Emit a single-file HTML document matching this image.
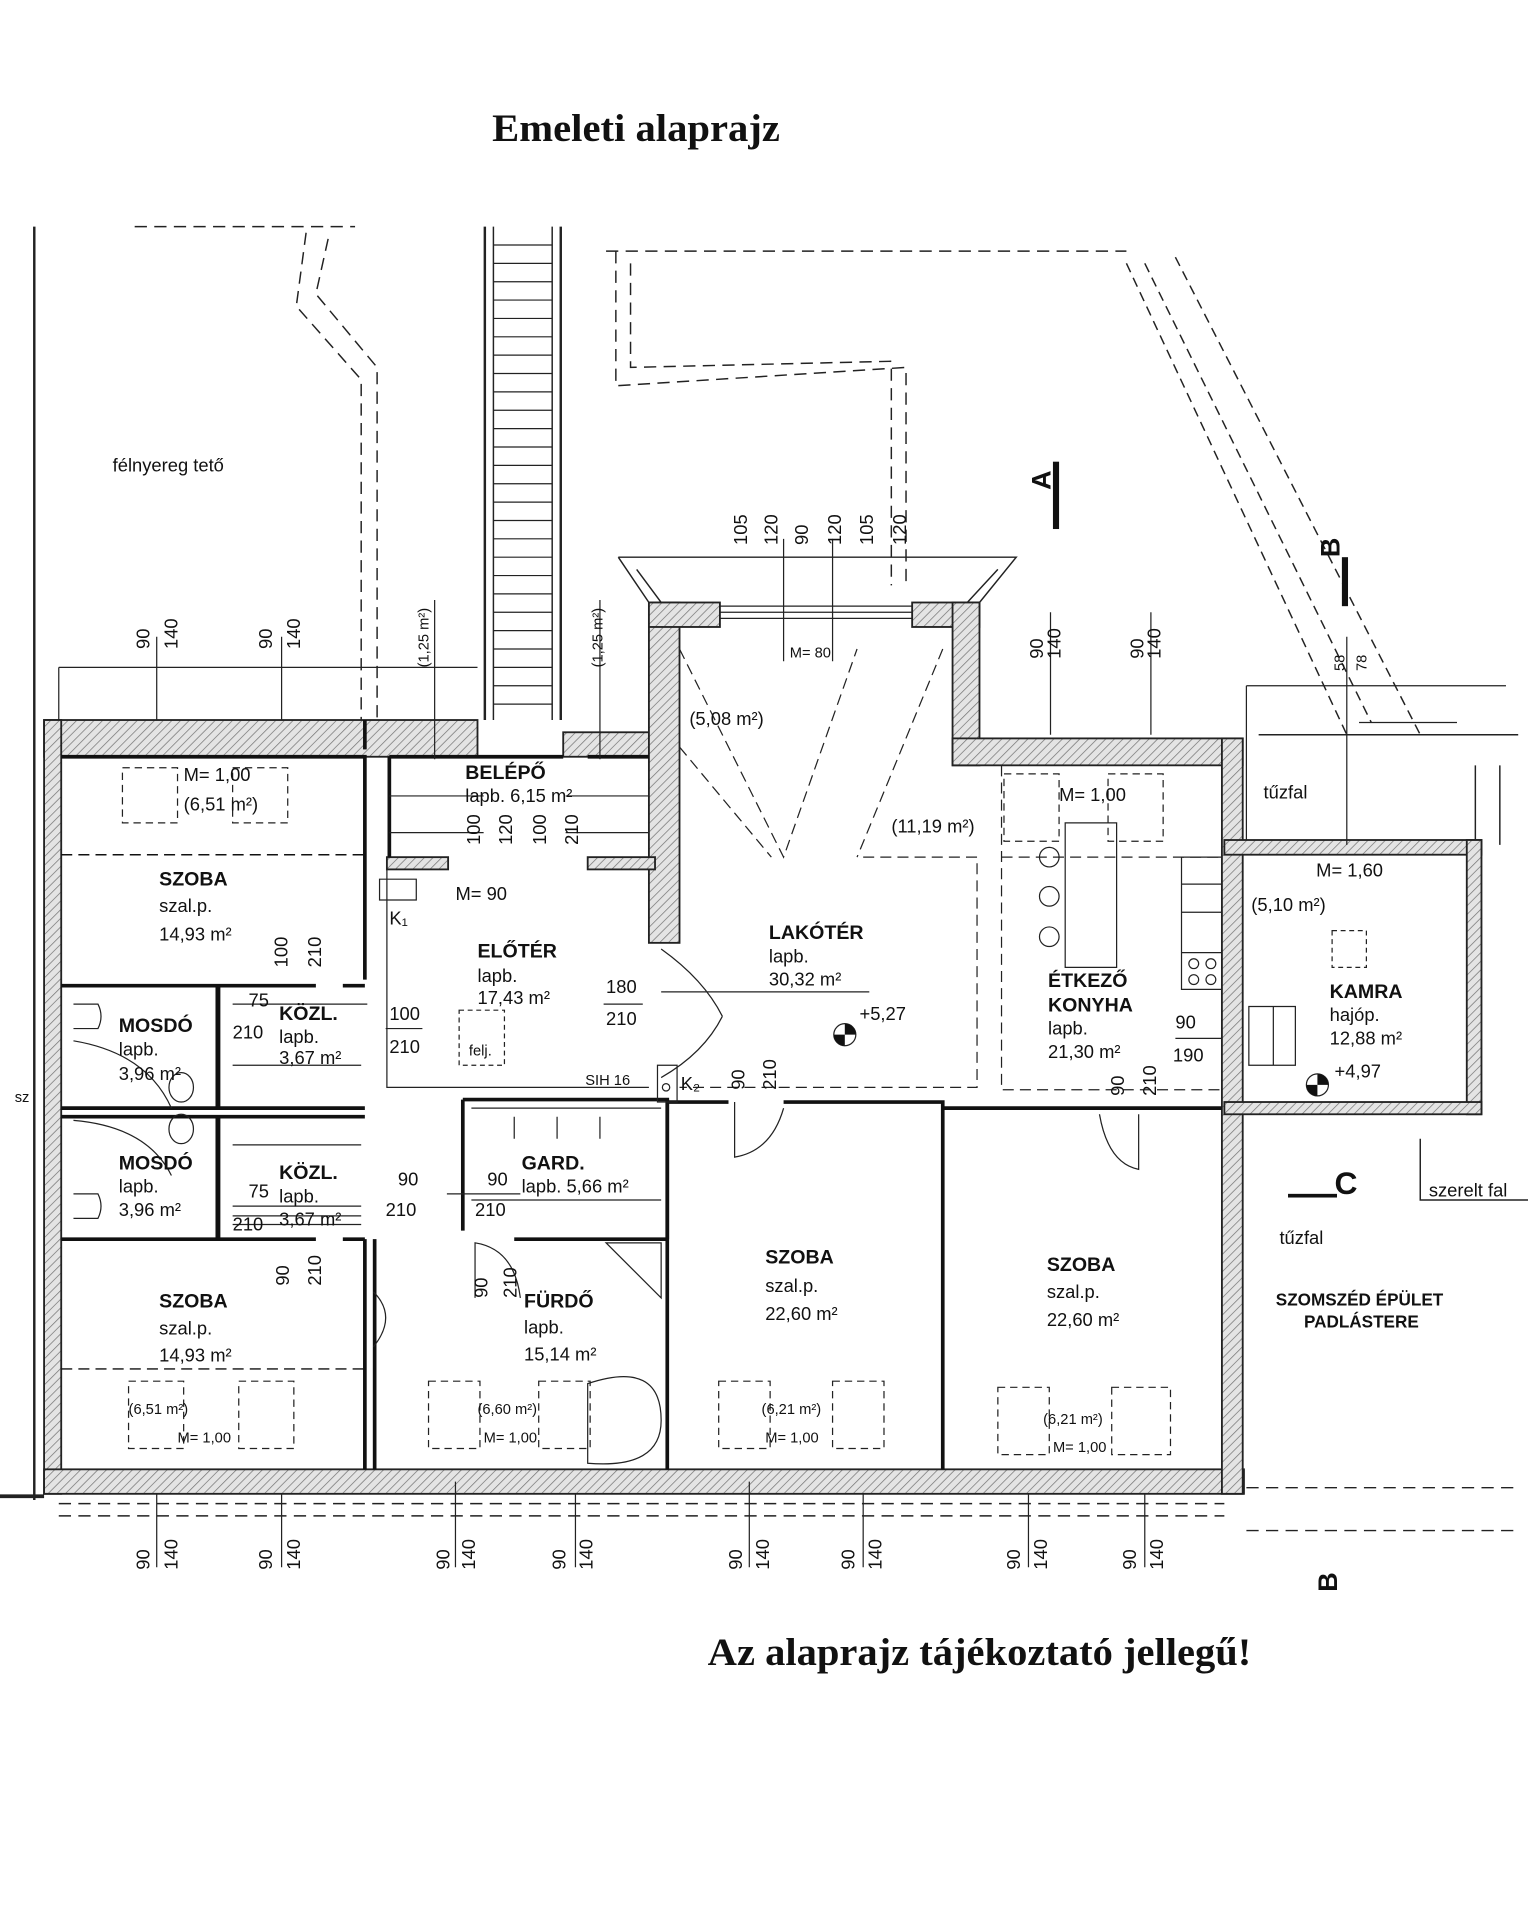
<!DOCTYPE html>
<html><head><meta charset="utf-8"><style>
html,body{margin:0;padding:0;background:#fff;}
svg{display:block}
text{font-family:"Liberation Sans",sans-serif;fill:#111}
.t{font-family:"Liberation Serif",serif;font-weight:bold;font-size:32px}
.rn{font-weight:bold;font-size:16px}
.s{font-size:15px}
.d{font-size:15px}
.sm{font-size:12px}
</style></head><body>
<svg width="1528" height="1920" viewBox="0 0 1248 1568" xmlns="http://www.w3.org/2000/svg">
<defs>
<pattern id="h" width="5" height="5" patternUnits="userSpaceOnUse" patternTransform="rotate(45)">
<rect width="5" height="5" fill="#e4e4e4"/><line x1="0" y1="0" x2="0" y2="5" stroke="#777" stroke-width="1.2"/>
</pattern>
</defs>
<rect width="1248" height="1568" fill="#fff"/>
<text class="t" x="402" y="115" textLength="235" lengthAdjust="spacingAndGlyphs">Emeleti alaprajz</text>
<text class="t" x="578" y="1360" textLength="444" lengthAdjust="spacingAndGlyphs">Az alaprajz tájékoztató jellegű!</text>

<g fill="none" stroke="#222" stroke-width="1.2">
<path d="M28 185 V1225" stroke-width="2"/>
<path d="M110 185 H290" stroke-dasharray="10 6"/>
<path d="M268 195 L258 240 L308 300 V588 M250 190 L242 250 L295 310 V588" stroke-dasharray="10 6"/>
<path d="M396 185 V588 M458 185 V588" stroke-width="2"/>
<path d="M403 185 V588 M451 185 V588"/>
<g stroke-width="1">
<path d="M403 200 H451 M403 215 H451 M403 230 H451 M403 245 H451 M403 260 H451 M403 275 H451 M403 290 H451 M403 305 H451 M403 320 H451 M403 335 H451 M403 350 H451 M403 365 H451 M403 380 H451 M403 395 H451 M403 410 H451 M403 425 H451 M403 440 H451 M403 455 H451 M403 470 H451 M403 485 H451 M403 500 H451 M403 515 H451 M403 530 H451 M403 545 H451 M403 560 H451 M403 575 H451"/>
</g>
<path d="M495 205 H920 M503 205 V315 L740 300 V478" stroke-dasharray="10 6"/>
<path d="M515 215 V300 L728 295 V478" stroke-dasharray="10 6"/>
<path d="M920 215 L1100 600 M935 215 L1120 590 M960 210 L1160 600" stroke-dasharray="8 5"/>
<path d="M505 455 H830 L800 492 M505 455 L530 492 M520 465 L540 492 M815 465 L790 492"/>
<path d="M48 545 H390 M48 545 V588 M1018 560 H1230 M1018 560 V690" stroke-width="1"/>
<path d="M48 1228 H1000 M48 1238 H1000 M1018 1215 H1240 M1018 1250 H1240" stroke-dasharray="10 6"/>
<path d="M1028 600 H1240 M1205 625 V690 M1225 625 V690"/>
<path d="M1160 930 V980 H1248"/>
<path d="M0 1222 H36" stroke-width="3"/>
</g>
<g fill="url(#h)" stroke="#222" stroke-width="1.5">
<rect x="36" y="588" width="354" height="30"/>
<rect x="36" y="588" width="14" height="632"/>
<rect x="36" y="1200" width="980" height="20"/>
<rect x="460" y="598" width="85" height="20"/>
<rect x="530" y="492" width="25" height="278"/>
<rect x="530" y="492" width="58" height="20"/>
<rect x="745" y="492" width="55" height="20"/>
<rect x="778" y="492" width="22" height="133"/>
<rect x="778" y="603" width="237" height="22"/>
<rect x="998" y="603" width="17" height="617"/>
<rect x="1000" y="686" width="210" height="12"/>
<rect x="1198" y="686" width="12" height="224"/>
<rect x="1000" y="900" width="210" height="10"/>
<rect x="316" y="700" width="50" height="10"/>
<rect x="480" y="700" width="55" height="10"/>
</g>
<g stroke="#222" fill="none"><path d="M588 495 H745 M588 500 H745 M588 505 H745"/></g>
<g stroke="#111" stroke-width="3" fill="none">
<path d="M50 618 H298 V800 M50 805 H258 M280 805 H298 M50 905 H298 M50 912 H298 M50 1012 H258 M280 1012 H298 M50 1200"/>
<path d="M50 698 H298" stroke-width="1.2" stroke-dasharray="9 5"/>
<path d="M50 1118 H298" stroke-width="1.2" stroke-dasharray="9 5"/>
<path d="M178 805 V905 M178 912 V1012" stroke-width="4"/>
<path d="M298 1012 V1200 M306 1012 V1200"/>
<path d="M318 618 V700 M318 618 H460 M480 618 H530"/>
<path d="M378 898 H545 V1012 M378 898 V1005 M420 1012 H545"/>
<path d="M545 898 V1200 M640 900 H770 V1200 M770 905 H998 M595 900 H545"/>
<path d="M298 612 V588"/>
</g>
<g stroke="#222" stroke-width="1" fill="none">
<path d="M316 710 V888 H530 M318 650 H395 M318 680 H395 M462 650 H530 M462 680 H530"/>
<path d="M555 530 L640 700 L700 530 M555 610 L630 700 M770 530 L700 700 M705 700 H798 V888 H555" stroke-dasharray="9 5"/>
<path d="M818 625 V890 H998 M818 700 H998" stroke-dasharray="9 5"/>
<path d="M870 672 H912 V790 H870 Z"/>
<path d="M965 700 H998 V808 H965 Z M965 722 H998 M965 745 H998 M965 778 H998"/>
<circle cx="857" cy="700" r="8"/><circle cx="857" cy="732" r="8"/><circle cx="857" cy="765" r="8"/>
<circle cx="975" cy="787" r="4"/><circle cx="989" cy="787" r="4"/><circle cx="975" cy="800" r="4"/><circle cx="989" cy="800" r="4"/>
<path d="M1020 822 H1058 V870 H1020 Z M1040 822 V870"/>
<path d="M540 775 Q575 800 590 830 M540 880 Q575 860 590 830"/>
<path d="M600 900 V945 Q630 940 640 905 M930 910 V955 Q905 950 898 910"/>
<path d="M388 1060 V1015 Q420 1020 425 1060"/>
<path d="M495 1015 H540 V1060 Z"/>
<path d="M480 1130 Q540 1110 540 1160 Q540 1200 480 1195 Z"/>
<path d="M305 1055 Q325 1075 305 1100"/>
<path d="M60 820 H80 Q85 830 80 840 H60 M60 975 H80 Q85 985 80 995 H60"/>
<path d="M60 850 Q120 860 140 905 M60 915 Q120 920 140 960"/>
<ellipse cx="148" cy="888" rx="10" ry="12"/><ellipse cx="148" cy="922" rx="10" ry="12"/>
<path d="M190 870 H295 M190 935 H295 M190 985 H295 M190 1000 H295"/>
<path d="M385 905 H540 M385 980 H540 M420 912 V930 M455 912 V930 M490 912 V930"/>
<path d="M375 825 H412 V870 H375 Z" stroke-dasharray="4 3"/>
<path d="M310 718 H340 V735 H310 Z"/>
<path d="M537 870 H553 V900 H537 Z"/><circle cx="544" cy="888" r="3"/>
<path d="M1088 760 H1116 V790 H1088 Z" stroke-dasharray="4 3"/>
<g stroke-dasharray="6 4">
<rect x="100" y="627" width="45" height="45"/><rect x="190" y="627" width="45" height="45"/>
<rect x="105" y="1128" width="45" height="55"/><rect x="195" y="1128" width="45" height="55"/>
<rect x="350" y="1128" width="42" height="55"/><rect x="440" y="1128" width="42" height="55"/>
<rect x="587" y="1128" width="42" height="55"/><rect x="680" y="1128" width="42" height="55"/>
<rect x="815" y="1133" width="42" height="55"/><rect x="908" y="1133" width="48" height="55"/>
<rect x="820" y="632" width="45" height="55"/><rect x="905" y="632" width="45" height="55"/>
</g>
<path d="M128 520 V588 M230 520 V588 M128 1220 V1280 M230 1220 V1280 M372 1210 V1280 M470 1220 V1280 M612 1210 V1280 M705 1220 V1280 M840 1220 V1280 M935 1220 V1280 M858 500 V600 M940 500 V600 M1100 520 V690 M640 440 V540 M680 440 V540 M355 490 V620 M490 490 V620 M1110 590 H1190"/>
<path d="M190 820 H300 M710 810 H540 M315 840 H345 M365 975 H425 M190 993 H295 M493 820 H525 M960 848 H998"/>
<circle cx="690" cy="845" r="9"/><circle cx="1076" cy="886" r="9"/>
</g>
<g fill="#111">
<path d="M690 836 A9 9 0 0 1 699 845 L690 845 Z M690 854 A9 9 0 0 1 681 845 L690 845 Z"/>
<path d="M1076 877 A9 9 0 0 1 1085 886 L1076 886 Z M1076 895 A9 9 0 0 1 1067 886 L1076 886 Z"/>
<rect x="860" y="377" width="5" height="55"/><rect x="1096" y="455" width="5" height="40"/>
<rect x="1052" y="975" width="40" height="3"/>
</g>

<text class="s" x="92" y="385">félnyereg tető</text>
<text class="rn" x="380" y="636">BELÉPŐ</text><text class="s" x="380" y="655">lapb.  6,15 m²</text>
<text class="s" x="150" y="638">M= 1,00</text><text class="s" x="150" y="662">(6,51 m²)</text>
<text class="rn" x="130" y="723">SZOBA</text><text class="s" x="130" y="745">szal.p.</text><text class="s" x="130" y="768">14,93 m²</text>
<text class="rn" x="97" y="843">MOSDÓ</text><text class="s" x="97" y="862">lapb.</text><text class="s" x="97" y="882">3,96 m²</text>
<text class="rn" x="97" y="955">MOSDÓ</text><text class="s" x="97" y="974">lapb.</text><text class="s" x="97" y="993">3,96 m²</text>
<text class="rn" x="228" y="833">KÖZL.</text><text class="s" x="228" y="852">lapb.</text><text class="s" x="228" y="869">3,67 m²</text>
<text class="rn" x="228" y="963">KÖZL.</text><text class="s" x="228" y="982">lapb.</text><text class="s" x="228" y="1001">3,67 m²</text>
<text class="d" x="203" y="822">75</text><text class="d" x="190" y="848">210</text>
<text class="d" x="203" y="978">75</text><text class="d" x="190" y="1005">210</text>
<text class="d" x="318" y="833">100</text><text class="d" x="318" y="860">210</text>
<text class="d" x="325" y="968">90</text><text class="d" x="315" y="993">210</text>
<text class="d" x="398" y="968">90</text><text class="d" x="388" y="993">210</text>
<text class="d" x="495" y="811">180</text><text class="d" x="495" y="837">210</text>
<text class="s" x="372" y="735">M=  90</text><text class="s" x="318" y="755">K₁</text>
<text class="rn" x="390" y="782">ELŐTÉR</text><text class="s" x="390" y="802">lapb.</text><text class="s" x="390" y="820">17,43 m²</text>
<text class="sm" x="383" y="862">felj.</text>
<text class="sm" x="478" y="886">SIH 16</text><text class="s" x="556" y="890">K₂</text>
<text class="s" x="563" y="592">(5,08 m²)</text><text class="sm" x="645" y="537">M=  80</text>
<text class="s" x="728" y="680">(11,19 m²)</text>
<text class="rn" x="628" y="767">LAKÓTÉR</text><text class="s" x="628" y="786">lapb.</text><text class="s" x="628" y="805">30,32 m²</text>
<text class="s" x="702" y="833">+5,27</text>
<text class="s" x="865" y="654">M= 1,00</text>
<text class="rn" x="856" y="806">ÉTKEZŐ</text><text class="rn" x="856" y="826">KONYHA</text><text class="s" x="856" y="845">lapb.</text><text class="s" x="856" y="864">21,30 m²</text>
<text class="d" x="960" y="840">90</text><text class="d" x="958" y="867">190</text>
<text class="s" x="1032" y="652">tűzfal</text>
<text class="s" x="1075" y="716">M= 1,60</text><text class="s" x="1022" y="744">(5,10 m²)</text>
<text class="rn" x="1086" y="815">KAMRA</text><text class="s" x="1086" y="834">hajóp.</text><text class="s" x="1086" y="853">12,88 m²</text>
<text class="s" x="1090" y="880">+4,97</text>
<text class="s" x="1167" y="977">szerelt fal</text>
<text class="s" x="1045" y="1016">tűzfal</text>
<text class="rn" x="1042" y="1066" style="font-size:14px">SZOMSZÉD ÉPÜLET</text><text class="rn" x="1065" y="1084" style="font-size:14px">PADLÁSTERE</text>
<text class="rn" x="1090" y="975" style="font-size:26px">C</text>
<text class="sm" x="12" y="900">sz</text>
<text class="rn" x="426" y="955">GARD.</text><text class="s" x="426" y="974">lapb. 5,66 m²</text>
<text class="rn" x="428" y="1068">FÜRDŐ</text><text class="s" x="428" y="1089">lapb.</text><text class="s" x="428" y="1111">15,14 m²</text>
<text class="rn" x="130" y="1068">SZOBA</text><text class="s" x="130" y="1090">szal.p.</text><text class="s" x="130" y="1112">14,93 m²</text>
<text class="rn" x="625" y="1032">SZOBA</text><text class="s" x="625" y="1055">szal.p.</text><text class="s" x="625" y="1078">22,60 m²</text>
<text class="rn" x="855" y="1038">SZOBA</text><text class="s" x="855" y="1060">szal.p.</text><text class="s" x="855" y="1083">22,60 m²</text>
<text class="sm" x="105" y="1155">(6,51 m²)</text><text class="sm" x="145" y="1178">M= 1,00</text>
<text class="sm" x="390" y="1155">(6,60 m²)</text><text class="sm" x="395" y="1178">M= 1,00</text>
<text class="sm" x="622" y="1155">(6,21 m²)</text><text class="sm" x="625" y="1178">M= 1,00</text>
<text class="sm" x="852" y="1163">(6,21 m²)</text><text class="sm" x="860" y="1186">M= 1,00</text>
<g class="d" font-size="15" font-family="Liberation Sans">
<g transform="translate(122,530) rotate(-90)"><text>90</text></g><g transform="translate(145,530) rotate(-90)"><text>140</text></g>
<g transform="translate(222,530) rotate(-90)"><text>90</text></g><g transform="translate(245,530) rotate(-90)"><text>140</text></g>
<g transform="translate(350,545) rotate(-90)"><text class="sm">(1,25 m²)</text></g>
<g transform="translate(492,545) rotate(-90)"><text class="sm">(1,25 m²)</text></g>
<g transform="translate(610,445) rotate(-90)"><text>105</text></g><g transform="translate(635,445) rotate(-90)"><text>120</text></g>
<g transform="translate(660,445) rotate(-90)"><text>90</text></g><g transform="translate(687,445) rotate(-90)"><text>120</text></g>
<g transform="translate(713,445) rotate(-90)"><text>105</text></g><g transform="translate(740,445) rotate(-90)"><text>120</text></g>
<g transform="translate(852,538) rotate(-90)"><text>90</text></g><g transform="translate(866,538) rotate(-90)"><text>140</text></g>
<g transform="translate(934,538) rotate(-90)"><text>90</text></g><g transform="translate(948,538) rotate(-90)"><text>140</text></g>
<g transform="translate(1098,548) rotate(-90)"><text class="sm">58</text></g><g transform="translate(1116,548) rotate(-90)"><text class="sm">78</text></g>
<g transform="translate(858,400) rotate(-90)"><text class="rn" style="font-size:22px">A</text></g>
<g transform="translate(1094,455) rotate(-90)"><text class="rn" style="font-size:22px">B</text></g>
<g transform="translate(392,690) rotate(-90)"><text>100</text></g><g transform="translate(418,690) rotate(-90)"><text>120</text></g>
<g transform="translate(446,690) rotate(-90)"><text>100</text></g><g transform="translate(472,690) rotate(-90)"><text>210</text></g>
<g transform="translate(235,790) rotate(-90)"><text>100</text></g><g transform="translate(262,790) rotate(-90)"><text>210</text></g>
<g transform="translate(236,1050) rotate(-90)"><text>90</text></g><g transform="translate(262,1050) rotate(-90)"><text>210</text></g>
<g transform="translate(608,890) rotate(-90)"><text>90</text></g><g transform="translate(634,890) rotate(-90)"><text>210</text></g>
<g transform="translate(918,895) rotate(-90)"><text>90</text></g><g transform="translate(944,895) rotate(-90)"><text>210</text></g>
<g transform="translate(398,1060) rotate(-90)"><text>90</text></g><g transform="translate(422,1060) rotate(-90)"><text>210</text></g>
<g transform="translate(122,1282) rotate(-90)"><text>90</text></g><g transform="translate(145,1282) rotate(-90)"><text>140</text></g>
<g transform="translate(222,1282) rotate(-90)"><text>90</text></g><g transform="translate(245,1282) rotate(-90)"><text>140</text></g>
<g transform="translate(367,1282) rotate(-90)"><text>90</text></g><g transform="translate(388,1282) rotate(-90)"><text>140</text></g>
<g transform="translate(462,1282) rotate(-90)"><text>90</text></g><g transform="translate(484,1282) rotate(-90)"><text>140</text></g>
<g transform="translate(606,1282) rotate(-90)"><text>90</text></g><g transform="translate(628,1282) rotate(-90)"><text>140</text></g>
<g transform="translate(698,1282) rotate(-90)"><text>90</text></g><g transform="translate(720,1282) rotate(-90)"><text>140</text></g>
<g transform="translate(833,1282) rotate(-90)"><text>90</text></g><g transform="translate(855,1282) rotate(-90)"><text>140</text></g>
<g transform="translate(928,1282) rotate(-90)"><text>90</text></g><g transform="translate(950,1282) rotate(-90)"><text>140</text></g>
<g transform="translate(1092,1300) rotate(-90)"><text class="rn" style="font-size:22px">B</text></g>
</g>
</svg>
</body></html>
